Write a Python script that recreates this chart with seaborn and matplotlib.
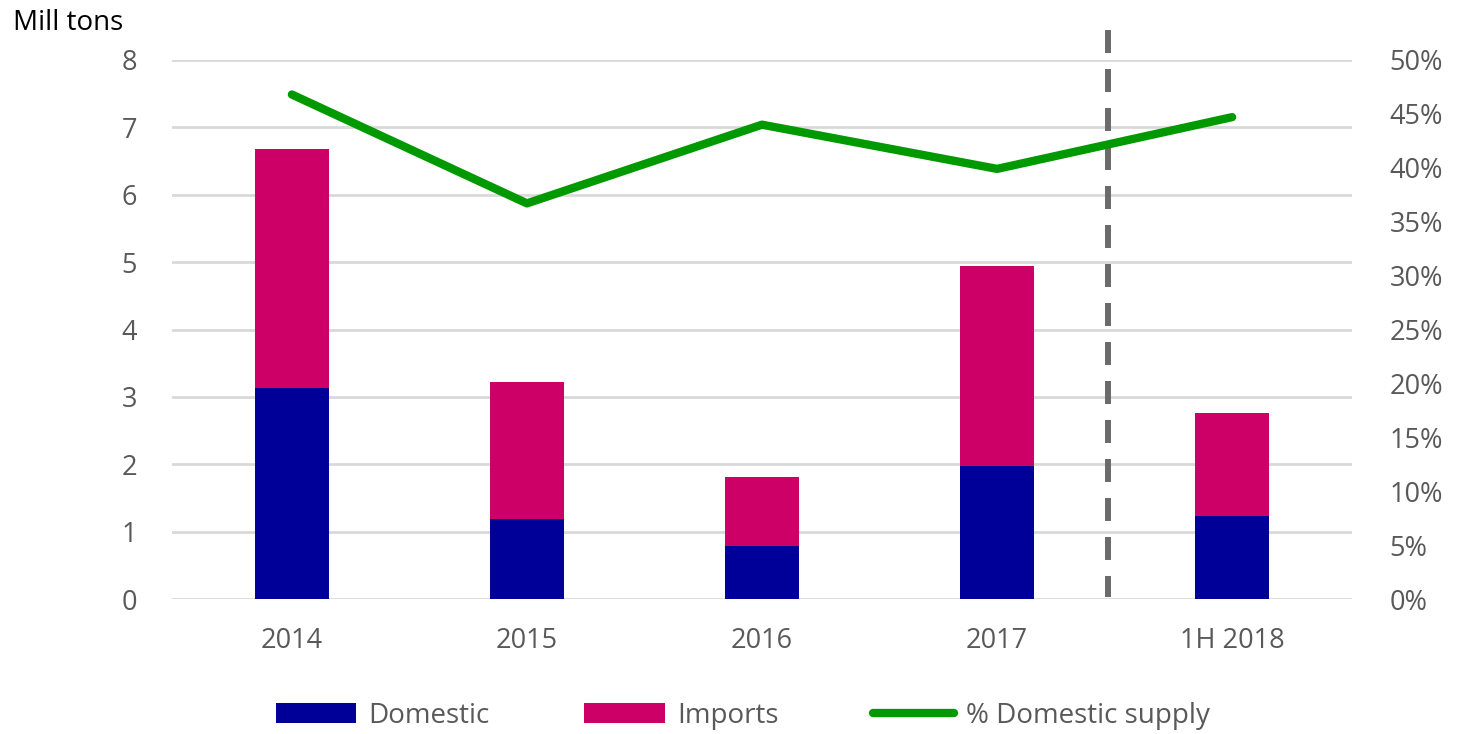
import numpy as np
import pandas as pd
import matplotlib
matplotlib.use("Agg")
import matplotlib.pyplot as plt
import seaborn as sns
from matplotlib.patches import Patch
from matplotlib.lines import Line2D

categories = ["2014", "2015", "2016", "2017", "1H 2018"]
domestic = [3.13, 1.19, 0.79, 1.97, 1.23]
imports = [3.55, 2.03, 1.02, 2.97, 1.53]
pct_domestic = [46.8, 36.7, 44.0, 39.9, 44.7]
left_ticks = [0, 1, 2, 3, 4, 5, 6, 7, 8]
right_ticks = [0, 5, 10, 15, 20, 25, 30, 35, 40, 45, 50]

C_DOM = "#000099"
C_IMP = "#CC0066"
C_PCT = "#009900"
C_TXT = "#595959"

sns.set_theme(style="white")
plt.rcParams["font.family"] = ["Open Sans", "DejaVu Sans"]

fig = plt.figure(figsize=(14.6, 7.34), dpi=100)
ax = fig.add_axes([172/1460, 1-599/734, (1352-172)/1460, (599-60)/734])

totals = [d + i for d, i in zip(domestic, imports)]
df = pd.DataFrame({"cat": categories, "total": totals, "domestic": domestic})

sns.barplot(data=df, x="cat", y="total", color=C_IMP, saturation=1, width=0.315, ax=ax,
            zorder=2, linewidth=0)
sns.barplot(data=df, x="cat", y="domestic", color=C_DOM, saturation=1, width=0.315, ax=ax,
            zorder=3, linewidth=0)

ax.set_ylim(0, 8)
ax.set_xlim(-0.51, 4.51)
ax.set_yticks(left_ticks)
ax.set_yticklabels([str(t) for t in left_ticks])
ax.grid(axis="y", color="#d9d9d9", linewidth=2, zorder=0)
ax.set_axisbelow(True)
for s in ax.spines.values():
    s.set_visible(False)
ax.set_xlabel("")
ax.set_ylabel("")
ax.tick_params(axis="y", length=0, pad=25, labelsize=19.5, labelcolor=C_TXT)
ax.tick_params(axis="x", length=0, pad=20, labelsize=19.5, labelcolor=C_TXT)

ax2 = ax.twinx()
sns.lineplot(x=np.arange(len(categories)), y=pct_domestic, color=C_PCT, linewidth=6,
             ax=ax2, solid_capstyle="round", zorder=4)
ax2.set_ylim(0, 50)
ax2.set_yticks(right_ticks)
ax2.set_yticklabels([f"{t}%" for t in right_ticks])
ax2.tick_params(axis="y", length=0, pad=27, labelsize=19.5, labelcolor=C_TXT)
for s in ax2.spines.values():
    s.set_visible(False)
ax2.set_xlim(-0.51, 4.51)

# separator dashed line (drawn top to bottom so a dash starts at the top)
ax.plot([3.47, 3.47], [8.44, 0.03], color="#6b6b6b", linewidth=4.3, linestyle=(0, (3.85, 2.68)),
        clip_on=False, zorder=5, solid_capstyle="butt", dash_capstyle="butt")

fig.text(13/1460, 1-30/734, "Mill tons", fontsize=20, color="black", va="baseline", ha="left")

handles = [Patch(facecolor=C_DOM, edgecolor="none", label="Domestic"),
           Patch(facecolor=C_IMP, edgecolor="none", label="Imports"),
           Line2D([0], [0], color=C_PCT, linewidth=6, solid_capstyle="round", label="% Domestic supply")]
leg = fig.legend(handles=handles, loc="center", bbox_to_anchor=(743/1460, 1-716/734), ncol=3,
                 frameon=False, fontsize=20, handlelength=2.9, handleheight=0.72,
                 columnspacing=3.4, handletextpad=0.45)
for t in leg.get_texts():
    t.set_color(C_TXT)

fig.savefig("out.png", dpi=100)
